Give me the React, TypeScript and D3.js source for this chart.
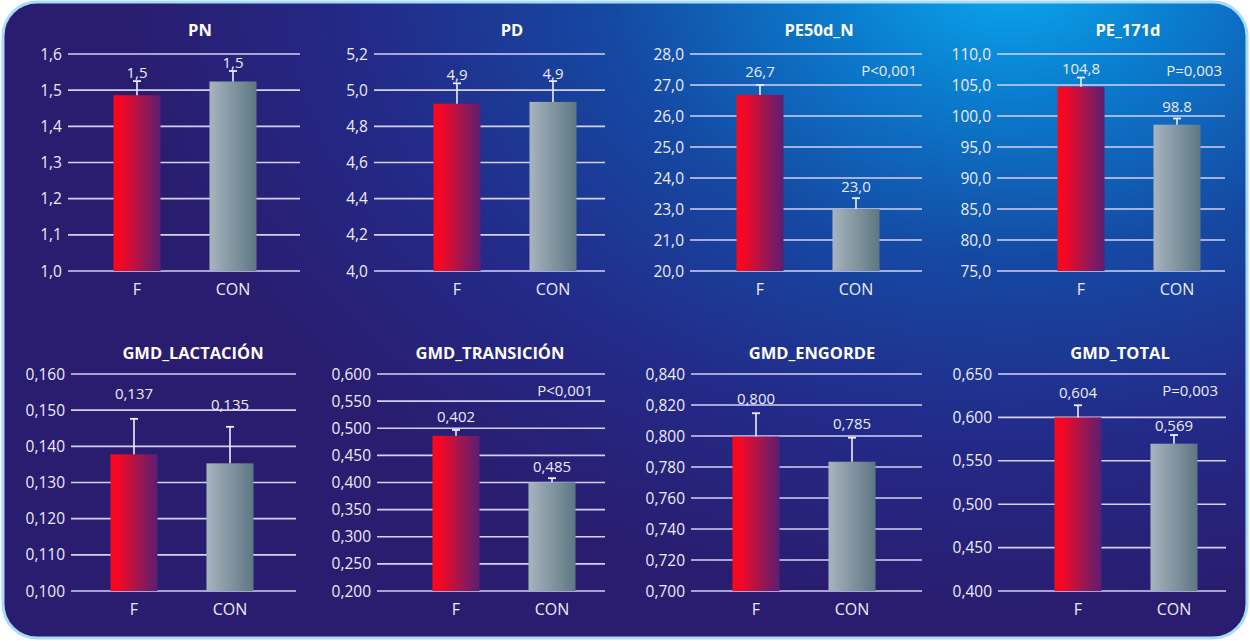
import React from "react";
import * as d3 from "d3";

// groups and per-panel values
const groups = ["F", "CON"];
const panelTitles = ["PN", "PD", "PE50d_N", "PE_171d", "GMD_LACTACIÓN", "GMD_TRANSICIÓN", "GMD_ENGORDE", "GMD_TOTAL"];
const fMeans = [1.486, 4.925, 26.68, 104.7, 0.1378, 0.486, 0.7996, 0.6];
const conMeans = [1.524, 4.935, 23.0, 98.6, 0.1353, 0.4004, 0.7834, 0.5697];
const fErr = [0.039, 0.113, 0.32, 1.5, 0.0098, 0.0108, 0.0151, 0.014];
const conErr = [0.029, 0.115, 0.35, 1.0, 0.0101, 0.0076, 0.0155, 0.01];
const fLabels = ["1,5", "4,9", "26,7", "104,8", "0,137", "0,402", "0,800", "0,604"];
const conLabels = ["1,5", "4,9", "23,0", "98.8", "0,135", "0,485", "0,785", "0,569"];
const pValues = ["", "", "P<0,001", "P=0,003", "", "P<0,001", "", "P=0,003"];
const yTicks = [
  [1.0, 1.1, 1.2, 1.3, 1.4, 1.5, 1.6],
  [4.0, 4.2, 4.4, 4.6, 4.8, 5.0, 5.2],
  [20, 21, 23, 24, 25, 26, 27, 28],
  [75, 80, 85, 90, 95, 100, 105, 110],
  [0.1, 0.11, 0.12, 0.13, 0.14, 0.15, 0.16],
  [0.2, 0.25, 0.3, 0.35, 0.4, 0.45, 0.5, 0.55, 0.6],
  [0.7, 0.72, 0.74, 0.76, 0.78, 0.8, 0.82, 0.84],
  [0.4, 0.45, 0.5, 0.55, 0.6, 0.65],
];
const tickDigits = [1, 1, 1, 1, 3, 3, 3, 3];

// layout (style only)
const W = 1250;
const H = 641;
const rows = [
  { top: 54, bottom: 271, titleY: 36, catY: 295, pY: 76 },
  { top: 374, bottom: 591, titleY: 359, catY: 615, pY: 396 },
];
const gridX = [
  [68, 300], [374, 605], [690, 922], [997, 1225],
  [71, 296], [377, 605], [691, 922], [998, 1226],
];
const barCenter = [137, 457, 760, 1081, 134, 456, 756, 1078];
const titleX = [200, 512, 819, 1128, 193, 490, 812, 1120];
const pRight = [0, 0, 917, 1222, 0, 593, 0, 1218];
const labelGap = [[3, 3], [3, 2], [8, 6], [4, 6], [20, 17], [8, 6], [9, 9], [7, 4]];

const gridColor = "#d4d0f6";
const textColor = "#ecebf8";

function Panel({ i }: { i: number }) {
  const row = rows[i < 4 ? 0 : 1];
  const ticks = yTicks[i];
  const step = (row.bottom - row.top) / (ticks.length - 1);
  // tick rows are evenly spaced even where labels skip a value (PE50d_N)
  const y = d3
    .scaleLinear()
    .domain(ticks)
    .range(ticks.map((_, k) => row.bottom - k * step));
  const c0 = barCenter[i];
  const x = d3
    .scaleBand()
    .domain(groups)
    .range([c0 - 48, c0 + 144])
    .paddingInner(0.51)
    .paddingOuter(0.255);
  const fmt = d3.format(`.${tickDigits[i]}f`);
  const means = [fMeans[i], conMeans[i]];
  const errs = [fErr[i], conErr[i]];
  const labels = [fLabels[i], conLabels[i]];
  const [gx0, gx1] = gridX[i];
  const bw = x.bandwidth();

  return (
    <g>
      <text x={titleX[i]} y={row.titleY} textAnchor="middle" fontWeight="bold" fontSize={16.5} fill="#ffffff">
        {panelTitles[i]}
      </text>
      {ticks.map((t) => (
        <g key={t}>
          <line x1={gx0} x2={gx1} y1={y(t)} y2={y(t)} stroke={gridColor} strokeWidth={1.6} />
          <text x={gx0 - 6} y={y(t) + 5.5} textAnchor="end" fontSize={15.5} fill={textColor}>
            {fmt(t).replace(".", ",")}
          </text>
        </g>
      ))}
      {groups.map((g, k) => {
        const bx = x(g) as number;
        const top = y(means[k]);
        const errTop = y(means[k] + errs[k]);
        const cx = bx + bw / 2;
        return (
          <g key={g}>
            <rect x={bx} y={top} width={bw} height={row.bottom - top} fill={k === 0 ? "url(#barF)" : "url(#barCon)"} />
            <line x1={cx} x2={cx} y1={top} y2={errTop} stroke="#eeeef8" strokeWidth={1.6} />
            <line x1={cx - 4} x2={cx + 4} y1={errTop} y2={errTop} stroke="#eeeef8" strokeWidth={1.8} />
            <text x={cx} y={errTop - labelGap[i][k]} textAnchor="middle" fontSize={15} fill={textColor}>
              {labels[k]}
            </text>
            <text x={cx} y={row.catY} textAnchor="middle" fontSize={16} fill={textColor}>
              {g}
            </text>
          </g>
        );
      })}
      {pValues[i] && (
        <text x={pRight[i]} y={row.pY} textAnchor="end" fontSize={15} fill={textColor}>
          {pValues[i]}
        </text>
      )}
    </g>
  );
}

export default function App() {
  return (
    <svg
      width={W}
      height={H}
      style={{ position: "absolute", left: 0, top: 0 }}
      fontFamily="'Open Sans', 'Noto Sans', sans-serif"
    >
      <defs>
        <radialGradient
          id="bg"
          gradientUnits="userSpaceOnUse"
          cx={0}
          cy={0}
          r={900}
          gradientTransform="translate(1010,-30) scale(1,0.72)"
        >
          <stop offset="0" stopColor="#0aaaf0" />
          <stop offset="0.2" stopColor="#0a7ccd" />
          <stop offset="0.45" stopColor="#1548a2" />
          <stop offset="0.72" stopColor="#232a88" />
          <stop offset="1" stopColor="#2a1c6e" />
        </radialGradient>
        <linearGradient id="barF" x1="0" x2="1" y1="0" y2="0">
          <stop offset="0" stopColor="#ff0618" />
          <stop offset="0.2" stopColor="#ee0828" />
          <stop offset="0.6" stopColor="#a01650" />
          <stop offset="1" stopColor="#5a1e72" />
        </linearGradient>
        <linearGradient id="barCon" x1="0" x2="1" y1="0" y2="0">
          <stop offset="0" stopColor="#a7b4be" />
          <stop offset="1" stopColor="#5d7783" />
        </linearGradient>
      </defs>
      <rect width={W} height={H} fill="#ffffff" />
      <rect x={3} y={2} width={W - 6} height={H - 5} rx={34} fill="url(#bg)" stroke="#a8dcf5" strokeWidth={3} />
      {panelTitles.map((_, i) => (
        <Panel key={i} i={i} />
      ))}
    </svg>
  );
}
